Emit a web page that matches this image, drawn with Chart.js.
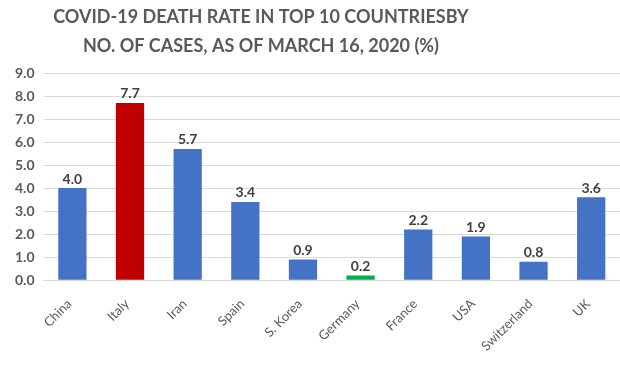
<!DOCTYPE html>
<html>
<head>
<meta charset="utf-8">
<script src="https://cdn.jsdelivr.net/npm/chart.js@4/dist/chart.umd.min.js"></script>
<style>
  html, body { margin: 0; padding: 0; background: #fff; }
  #wrap { width: 620px; height: 370px; }
</style>
</head>
<body>
<div id="wrap"><canvas id="cnv" width="620" height="370"></canvas></div>
<script>
const countries = ['China', 'Italy', 'Iran', 'Spain', 'S. Korea', 'Germany', 'France', 'USA', 'Switzerland', 'UK'];
const deathRates = [4.0, 7.7, 5.7, 3.4, 0.9, 0.2, 2.2, 1.9, 0.8, 3.6];
const barColors = ['#4472C4', '#C00000', '#4472C4', '#4472C4', '#4472C4', '#00B050', '#4472C4', '#4472C4', '#4472C4', '#4472C4'];
const titleLines = ['COVID-19 DEATH RATE IN TOP 10 COUNTRIESBY', 'NO. OF CASES, AS OF MARCH 16, 2020 (%)'];

const FONT = "Lato, 'Open Sans', sans-serif";

// title is drawn by hand: in the original it sits left of the canvas centre
const titlePlugin = {
  id: 'leftTitle',
  afterDraw(chart) {
    const ctx = chart.ctx;
    ctx.save();
    ctx.font = "bold 18px " + FONT;
    ctx.fillStyle = '#595959';
    ctx.textAlign = 'center';
    ctx.textBaseline = 'middle';
    titleLines.forEach((line, i) => ctx.fillText(line, 261, 17 + i * 29));
    ctx.restore();
  }
};

// value labels above bars
const valueLabels = {
  id: 'valueLabels',
  afterDatasetsDraw(chart) {
    const ctx = chart.ctx;
    const meta = chart.getDatasetMeta(0);
    ctx.save();
    ctx.font = "bold 14px " + FONT;
    ctx.fillStyle = '#404040';
    ctx.textAlign = 'center';
    ctx.textBaseline = 'bottom';
    meta.data.forEach((bar, i) => {
      ctx.fillText(deathRates[i].toFixed(1), bar.x, bar.y - 2);
    });
    ctx.restore();
  }
};

const ctx = document.getElementById('cnv').getContext('2d');
new Chart(ctx, {
  type: 'bar',
  data: {
    labels: countries,
    datasets: [{
      data: deathRates,
      backgroundColor: barColors,
      barPercentage: 0.98,
      categoryPercentage: 0.5
    }]
  },
  options: {
    responsive: false,
    animation: false,
    layout: { padding: { left: 6, right: 0, top: 73, bottom: 0 } },
    plugins: {
      legend: { display: false },
      tooltip: { enabled: false },
      title: { display: false }
    },
    scales: {
      x: {
        grid: { display: false, drawTicks: false },
        border: { color: '#D9D9D9' },
        ticks: {
          color: '#595959',
          font: { family: FONT, size: 13 },
          minRotation: 45,
          maxRotation: 45,
          labelOffset: -3,
          padding: 16
        }
      },
      y: {
        min: 0,
        max: 9,
        grid: { color: '#D9D9D9', drawTicks: false },
        border: { display: false },
        ticks: {
          stepSize: 1,
          color: '#595959',
          font: { family: FONT, size: 14, weight: 'bold' },
          padding: 9,
          callback: v => v.toFixed(1)
        }
      }
    }
  },
  plugins: [valueLabels, titlePlugin]
});
</script>
</body>
</html>
